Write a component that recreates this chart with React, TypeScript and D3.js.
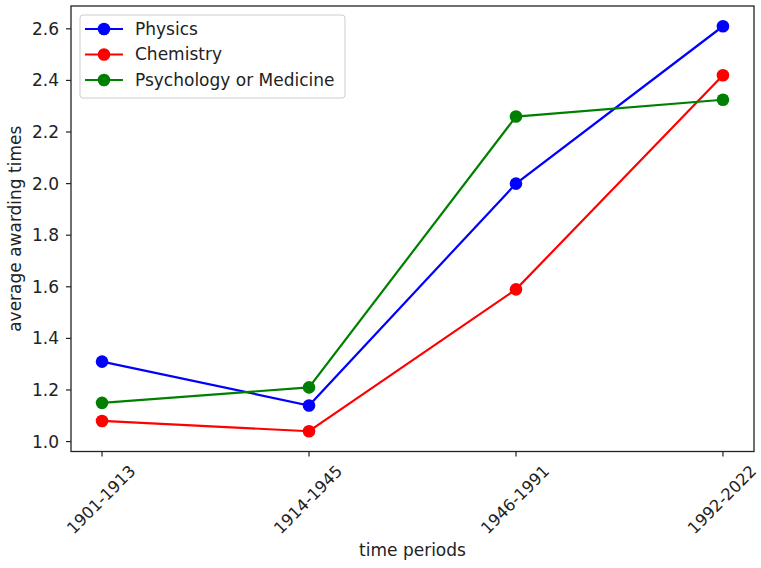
import React from "react";
import * as d3 from "d3";

const periods = ["1901-1913", "1914-1945", "1946-1991", "1992-2022"];
const physics = [1.31, 1.14, 2.0, 2.61];
const chemistry = [1.08, 1.04, 1.59, 2.42];
const medicine = [1.15, 1.21, 2.26, 2.325];
const yTicks = [1.0, 1.2, 1.4, 1.6, 1.8, 2.0, 2.2, 2.4, 2.6];

const series = [
  { name: "Physics", values: physics, color: "#0000ff" },
  { name: "Chemistry", values: chemistry, color: "#ff0000" },
  { name: "Psychology or Medicine", values: medicine, color: "#008000" },
];

const W = 761;
const H = 568;
const left = 71;
const right = 754;
const top = 6;
const bottom = 451.5;
const font = "DejaVu Sans, sans-serif";
const fs = 17;

export default function App() {
  const all = series.flatMap((s) => s.values);
  const lo = d3.min(all)!;
  const hi = d3.max(all)!;
  const pad = (hi - lo) * 0.05;
  const y = d3.scaleLinear().domain([lo - pad, hi + pad]).range([bottom, top]);
  // index scale with a 5% margin on both sides
  const xi = d3
    .scaleLinear()
    .domain([-0.15, periods.length - 1 + 0.15])
    .range([left, right]);
  const line = d3
    .line<number>()
    .x((_, i) => xi(i))
    .y((v) => y(v));

  return (
    <svg width={W} height={H} style={{ position: "absolute", left: 0, top: 0, background: "#fff" }} fontFamily={font}>
      {series.map((s) => (
        <g key={s.name}>
          <path d={line(s.values)!} fill="none" stroke={s.color} strokeWidth={2.2} />
          {s.values.map((v, i) => (
            <circle key={i} cx={xi(i)} cy={y(v)} r={6.3} fill={s.color} />
          ))}
        </g>
      ))}
      <rect x={left} y={top} width={right - left} height={bottom - top} fill="none" stroke="#222" strokeWidth={1.3} />
      {yTicks.map((t) => (
        <g key={t} transform={`translate(${left},${y(t)})`}>
          <line x1={-5} x2={0} stroke="#222" strokeWidth={1.2} />
          <text x={-12} dy="0.35em" textAnchor="end" fontSize={fs} fill="#222">
            {t.toFixed(1)}
          </text>
        </g>
      ))}
      {periods.map((p, i) => (
        <g key={p} transform={`translate(${xi(i)},${bottom})`}>
          <line y1={0} y2={5} stroke="#222" strokeWidth={1.2} />
          <text
            transform="translate(-1,48) rotate(-45)"
            textAnchor="middle"
            dy="0.35em"
            fontSize={16.3}
            fill="#222"
          >
            {p}
          </text>
        </g>
      ))}
      <text x={(left + right) / 2} y={556} textAnchor="middle" fontSize={fs} fill="#222">
        time periods
      </text>
      <text transform={`translate(21,${(top + bottom) / 2}) rotate(-90)`} textAnchor="middle" fontSize={fs} fill="#222">
        average awarding times
      </text>
      <g transform="translate(80,15)">
        <rect width={265} height={83} rx={3} fill="#fff" fillOpacity={0.8} stroke="#ccc" strokeWidth={1} />
        {series.map((s, i) => (
          <g key={s.name} transform={`translate(0,${14 + i * 25.5})`}>
            <line x1={5} x2={43} stroke={s.color} strokeWidth={2.2} />
            <circle cx={24} cy={0} r={6.3} fill={s.color} />
            <text x={55} dy="0.35em" fontSize={fs} fill="#222">
              {s.name}
            </text>
          </g>
        ))}
      </g>
    </svg>
  );
}
